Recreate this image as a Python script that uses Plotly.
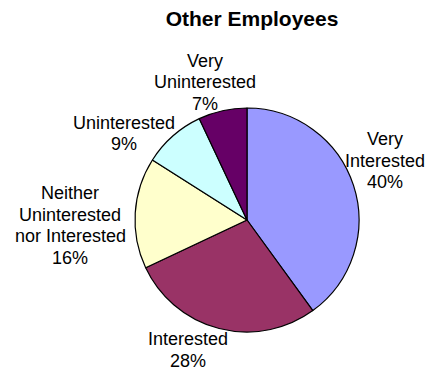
import plotly.graph_objects as go

W, H = 432, 371

# Survey answers, clockwise from 12 o'clock
categories = ["Very Interested", "Interested",
              "Neither Uninterested nor Interested",
              "Uninterested", "Very Uninterested"]
shares = [40, 28, 16, 9, 7]
colors = ["#9999FF", "#993366", "#FFFFCC", "#CCFFFF", "#660066"]

# How each category name wraps in its callout
label_lines = [["Very", "Interested"],
               ["Interested"],
               ["Neither", "Uninterested", "nor Interested"],
               ["Uninterested"],
               ["Very", "Uninterested"]]

# Callout placement: centre x and first-line y, in pixels
label_anchor = [(385, 139), (188, 339), (70, 193), (124, 123), (205, 61)]
LINE_GAP = 21.5

# Pie centre and radius in pixels
CX, CY, R = 247, 220, 112

FONT = "Liberation Sans, Arial, Helvetica, sans-serif"

fig = go.Figure(go.Pie(
    labels=categories,
    values=shares,
    sort=False,
    direction="clockwise",
    rotation=0,
    marker=dict(colors=colors, line=dict(color="#000000", width=1.2)),
    textinfo="none",
    hoverinfo="label+percent",
    showlegend=False,
    domain=dict(x=[(CX - R) / W, (CX + R) / W],
                y=[1 - (CY + R) / H, 1 - (CY - R) / H]),
))

total = sum(shares)
annotations = []
for lines, share, (ax, ay) in zip(label_lines, shares, label_anchor):
    rows = lines + [f"{round(share / total * 100)}%"]
    for i, row in enumerate(rows):
        annotations.append(dict(
            text=row, x=ax / W, y=1 - (ay + i * LINE_GAP) / H,
            xref="paper", yref="paper", xanchor="center", yanchor="middle",
            showarrow=False, font=dict(family=FONT, size=18, color="#000000"),
        ))

fig.update_layout(
    width=W, height=H,
    margin=dict(l=0, r=0, t=0, b=0),
    paper_bgcolor="#FFFFFF",
    plot_bgcolor="#FFFFFF",
    title=dict(text="<b>Other Employees</b>", x=252 / W, y=1 - 18.5 / H,
               xanchor="center", yanchor="middle",
               font=dict(family=FONT, size=21, color="#000000")),
    annotations=annotations,
)

fig.write_html("out.html")
